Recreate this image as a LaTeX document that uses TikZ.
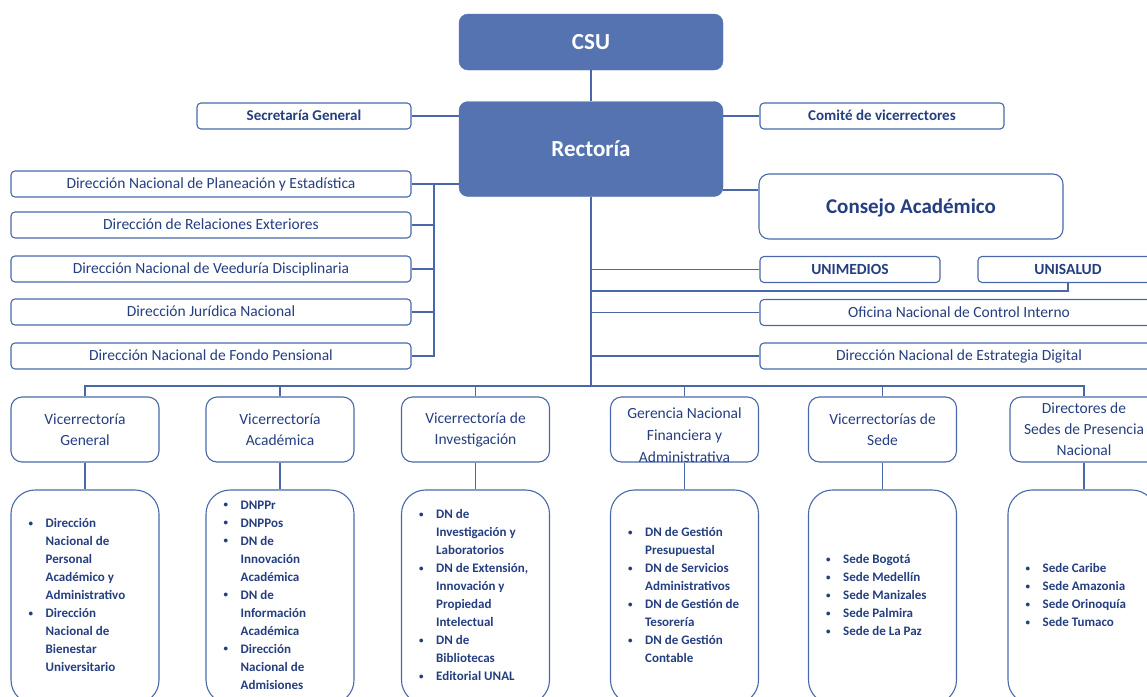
\documentclass[tikz,border=0pt]{standalone}
\usepackage{fontspec}
\setmainfont{Carlito}
\usetikzlibrary{positioning}

\definecolor{unfill}{RGB}{84,115,176}
\definecolor{unline}{RGB}{72,104,170}
\definecolor{untext}{RGB}{36,62,128}

\newcommand{\bul}{\makebox[17pt][l]{\raisebox{1.2pt}{\fontsize{9}{9}\selectfont\textbullet}}}
\newcommand{\ind}{\hspace*{17pt}}

\begin{document}
\begin{tikzpicture}[
    x=1pt, y=-1pt,
    head/.style={rectangle, rounded corners=9pt, fill=unfill, draw=unfill, text=white, minimum width=264pt, font=\bfseries\fontsize{23}{27}\selectfont},
    unit/.style={rectangle, rounded corners=4pt, draw=unline, line width=1.1pt, fill=white, text=untext, minimum height=26pt, inner sep=0pt, text height=11pt, text depth=2pt, font=\fontsize{15.5}{18}\selectfont},
    vice/.style={rectangle, rounded corners=11pt, draw=unline, line width=1.1pt, text=untext, minimum width=148pt, minimum height=65pt, align=center, font=\fontsize{15.5}{21}\selectfont},
    listbox/.style={rectangle, rounded corners=24pt, draw=unline, line width=1.1pt, minimum width=148pt, minimum height=214pt},
    listtext/.style={align=left, text=untext, inner sep=0pt, font=\bfseries\fontsize{13}{18}\selectfont},
    link/.style={draw=unline, line width=1.1pt}
]
\useasboundingbox (0,0) rectangle (1147,696);
\clip (0,0) rectangle (1147,696);

% Top level
\node[head, minimum height=56pt] (csu) at (591,42) {CSU};
\node[head, minimum height=95pt] (rector) at (591,149) {Rectoría};
\node[unit, minimum width=214pt, font=\bfseries\fontsize{15}{18}\selectfont] (secgen) at (304,116) {Secretaría General};
\node[unit, minimum width=244pt, font=\bfseries\fontsize{15}{18}\selectfont] (comite) at (882,116) {Comité de vicerrectores};

% Left column
\node[unit, minimum width=400pt] (dnpe) at (211,184) {Dirección Nacional de Planeación y Estadística};
\node[unit, minimum width=400pt] (dre) at (211,225) {Dirección de Relaciones Exteriores};
\node[unit, minimum width=400pt] (dnvd) at (211,269) {Dirección Nacional de Veeduría Disciplinaria};
\node[unit, minimum width=400pt] (djn) at (211,312) {Dirección Jurídica Nacional};
\node[unit, minimum width=400pt] (dnfp) at (211,356) {Dirección Nacional de Fondo Pensional};

% Right column
\node[unit, rounded corners=10pt, minimum width=304pt, minimum height=65pt, text height=16pt, text depth=2pt, font=\bfseries\fontsize{21}{25}\selectfont] (consejo) at (911,206.5) {Consejo Académico};
\node[unit, minimum width=180pt, font=\bfseries\fontsize{15.5}{18}\selectfont] (unimedios) at (850,269.5) {UNIMEDIOS};
\node[unit, minimum width=180pt, font=\bfseries\fontsize{15.5}{18}\selectfont] (unisalud) at (1068,269.5) {UNISALUD};
\node[unit, minimum width=398pt] (onci) at (959,312.5) {Oficina Nacional de Control Interno};
\node[unit, minimum width=398pt] (dned) at (959,356) {Dirección Nacional de Estrategia Digital};

% Vicerrectorias
\node[vice] (vg) at (85,429.5) {Vicerrectoría\\General};
\node[vice] (va) at (280,429.5) {Vicerrectoría\\Académica};
\node[vice] (vi) at (475.5,429.5) {Vicerrectoría de\\Investigación};
\node[vice] (gnfa) at (684.5,429.5) {};
\node[text=untext, align=center, font=\fontsize{15.5}{22}\selectfont] (gnfat) at (684.5,435) {Gerencia Nacional\\Financiera y\\Administrativa};
\node[vice] (vs) at (882.5,429.5) {Vicerrectorías de\\Sede};
\node[vice] (dsp) at (1084,429.5) {Directores de\\Sedes de Presencia\\Nacional};

% Dependencias
\node[listbox] (vglist) at (85,597) {};
\node[listbox] (valist) at (280,597) {};
\node[listbox] (vilist) at (475.5,597) {};
\node[listbox] (gnfalist) at (684.5,597) {};
\node[listbox] (vslist) at (882.5,597) {};
\node[listbox] (dsplist) at (1082,597) {};

\node[listtext, right=18pt of vglist.west, yshift=2pt] (vgitems) {\bul Dirección\\ \ind Nacional de\\ \ind Personal\\ \ind Académico y\\ \ind Administrativo\\ \bul Dirección\\ \ind Nacional de\\ \ind Bienestar\\ \ind Universitario};
\node[listtext, right=18pt of valist.west, yshift=2pt] (vaitems) {\bul DNPPr\\ \bul DNPPos\\ \bul DN de\\ \ind Innovación\\ \ind Académica\\ \bul DN de\\ \ind Información\\ \ind Académica\\ \bul Dirección\\ \ind Nacional de\\ \ind Admisiones};
\node[listtext, right=18pt of vilist.west, yshift=2pt] (viitems) {\bul DN de\\ \ind Investigación y\\ \ind Laboratorios\\ \bul DN de Extensión,\\ \ind Innovación y\\ \ind Propiedad\\ \ind Intelectual\\ \bul DN de\\ \ind Bibliotecas\\ \bul Editorial UNAL};
\node[listtext, right=18pt of gnfalist.west, yshift=2pt] (gnfaitems) {\bul DN de Gestión\\ \ind Presupuestal\\ \bul DN de Servicios\\ \ind Administrativos\\ \bul DN de Gestión de\\ \ind Tesorería\\ \bul DN de Gestión\\ \ind Contable};
\node[listtext, right=18pt of vslist.west, yshift=2pt] (vsitems) {\bul Sede Bogotá\\ \bul Sede Medellín\\ \bul Sede Manizales\\ \bul Sede Palmira\\ \bul Sede de La Paz};
\node[listtext, right=18pt of dsplist.west, yshift=2pt] (dspitems) {\bul Sede Caribe\\ \bul Sede Amazonia\\ \bul Sede Orinoquía\\ \bul Sede Tumaco};

% Connectors
\coordinate (lbus) at (434,184);
\coordinate (hub) at (592,386);
\coordinate (salud) at (592,291);
\draw[link] (csu) -- (rector);
\draw[link] (secgen.east) -- (secgen.east -| rector.west);
\draw[link] (comite.west) -- (comite.west -| rector.east);
\draw[link] (rector.west |- dnpe.east) -- (dnpe.east);
\draw[link] (lbus) |- (dnfp.east);
\foreach \n in {dre,dnvd,djn}
    \draw[link] (\n.east) -- (\n.east -| lbus);
\draw[link] (rector.east |- 0,190) -- (consejo.west |- 0,190);
\draw[link] (rector.south) -- (rector.south |- hub);
\foreach \n in {unimedios,onci,dned}
    \draw[link] (\n.west) -- (\n.west -| hub);
\draw[link] (unisalud.south) |- (salud);
\draw[link] (vg.north) |- (hub) -| (dsp.north);
\foreach \n in {va,vi,gnfa,vs}
    \draw[link] (\n.north) -- (\n.north |- hub);
\foreach \a/\b in {vg/vglist,va/valist,vi/vilist,gnfa/gnfalist,vs/vslist,dsp/dsplist}
    \draw[link] (\a.south) -- (\a.south |- \b.north);

\end{tikzpicture}
\end{document}
